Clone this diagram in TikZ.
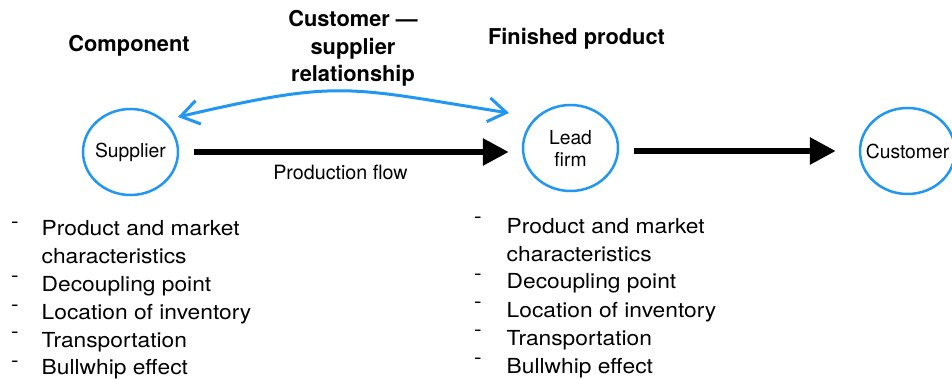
\documentclass[tikz,border=0pt]{standalone}
\usepackage{fontspec}
\setmainfont{TeX Gyre Heros}
\newfontfamily\widesans{TeX Gyre Heros}[FakeStretch=1.1]
\usetikzlibrary{arrows.meta,shapes.geometric}
\definecolor{relblue}{HTML}{2196F3}
\newcommand\listsize{\widesans\fontsize{20.7}{27.8}\selectfont}
\newcommand\headsize{\bfseries\fontsize{21.8}{27.8}\selectfont}
\newcommand\partysize{\fontsize{19.3}{22}\selectfont}
\newcommand\flowsize{\fontsize{19.7}{22}\selectfont}

\begin{document}
\begin{tikzpicture}[x=1pt,y=-1pt,
  party/.style={ellipse, draw=relblue, line width=2.5pt, minimum width=95pt,
    minimum height=86pt, inner xsep=-10pt, inner ysep=0pt, align=center, font=\partysize},
  flow/.style={line width=6pt, -{Triangle[length=26pt,width=26pt]}},
  rel/.style={draw=relblue, line width=3pt,
    {Straight Barb[length=18pt,width=24pt]}-{Straight Barb[length=18pt,width=24pt]}},
  head/.style={font=\headsize, align=center, inner sep=0pt},
  item/.style={font=\listsize, align=left, inner sep=0pt, anchor=base west},
  dashmark/.style={font=\listsize, inner sep=0pt, anchor=base west}]
\clip (0,0) rectangle (952,379);

% headings
\node[head, anchor=base] (hcomp) at (129,51.5) {Component};
\node[head, anchor=north] (hrel) at (353,9.9) {Customer —\\supplier\\relationship};
\node[head, anchor=base] (hfin) at (576.5,45) {Finished product};

% the three parties
\node[party] (sup) at (130.5,152) {Supplier};
\node[party] (lead) at (570.5,148) {Lead\\firm};
\node[party] (cust) at (907.5,151) {Customer};

% production flow
\draw[flow, shorten <=15pt, shorten >=13pt] (sup.east) -- (sup.east -| lead.west);
\draw[flow, shorten <=15pt, shorten >=23pt] (cust.west -| lead.east) -- (cust.west);
\node[font=\flowsize, anchor=base, inner sep=0pt] (pflow) at (340.5,180) {Production flow};

% customer-supplier relationship
\coordinate (relL) at (178,117);
\coordinate (relR) at (509,113);
\draw[rel] (relL) .. controls (342,79) and (345,87) .. (relR);

% factors at the supplier
\node[dashmark] (ld1) at (11,228.8) {-};
\node[dashmark] (ld2) at (11,282.8) {-};
\node[dashmark] (ld3) at (11,311.8) {-};
\node[dashmark] (ld4) at (11,338.8) {-};
\node[dashmark] (ld5) at (11,367.8) {-};
\node[item, anchor=north west] (li1) at (41.5,220) {Product and market\\characteristics};
\node[item] (li2) at (41.5,291) {Decoupling point};
\node[item] (li3) at (41.5,319) {Location of inventory};
\node[item] (li4) at (41.5,347) {Transportation};
\node[item] (li5) at (41.5,374) {Bullwhip effect};

% factors at the lead firm
\node[dashmark] (rd1) at (474,223.8) {-};
\node[dashmark] (rd2) at (474,280.8) {-};
\node[dashmark] (rd3) at (474,308.8) {-};
\node[dashmark] (rd4) at (474,336.8) {-};
\node[dashmark] (rd5) at (474,364.8) {-};
\node[item, anchor=north west] (ri1) at (506.5,218) {Product and market\\characteristics};
\node[item] (ri2) at (506.5,288) {Decoupling point};
\node[item] (ri3) at (506.5,317) {Location of inventory};
\node[item] (ri4) at (506.5,345) {Transportation};
\node[item] (ri5) at (506.5,373) {Bullwhip effect};
\end{tikzpicture}
\end{document}
